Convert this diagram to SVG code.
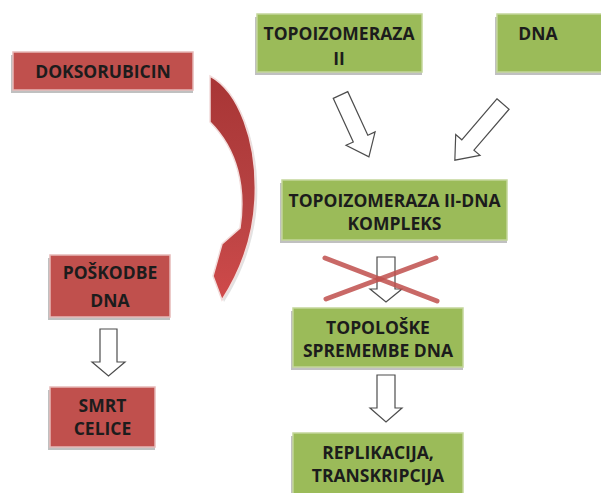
<svg xmlns="http://www.w3.org/2000/svg" width="601" height="493" viewBox="0 0 601 493">
<defs>
<style>
.g{fill:#9bbb59;stroke:#c3d69b;stroke-width:1.5}
.r{fill:#c0504d;stroke:#e6b9b8;stroke-width:1.5}
.sh{fill:#8c8c8c;opacity:0.55}
.t{font-family:"Open Sans","Liberation Sans",sans-serif;font-weight:bold;font-size:17.5px;fill:#1c1c1c;text-anchor:middle}
.ba{fill:#ffffff;stroke:#4d4d4d;stroke-width:1.2;stroke-linejoin:miter}
.x{stroke:#c0504d;stroke-width:5;stroke-linecap:round;opacity:0.85}
</style>
<linearGradient id="cg" x1="0" y1="0" x2="0" y2="1">
<stop offset="0" stop-color="#a83535"/>
<stop offset="0.6" stop-color="#b84343"/>
<stop offset="1" stop-color="#d04a4a"/>
</linearGradient>
</defs>

<g id="doksorubicin">
<rect class="sh" x="11" y="55" width="182" height="38"/>
<rect class="r" x="13" y="52" width="180" height="38"/>
<text class="t" x="103" y="78">DOKSORUBICIN</text>
</g>

<g id="topoizomeraza">
<rect class="sh" x="255" y="17" width="167" height="58"/>
<rect class="g" x="257" y="14" width="165" height="58"/>
<text class="t" x="339" y="40">TOPOIZOMERAZA</text>
<text class="t" x="339" y="65">II</text>
</g>

<g id="dna">
<rect class="sh" x="495" y="17" width="110" height="58"/>
<rect class="g" x="497" y="14" width="110" height="58"/>
<text class="t" x="538" y="40">DNA</text>
</g>

<g id="kompleks">
<rect class="sh" x="280" y="183" width="227" height="60"/>
<rect class="g" x="282" y="180" width="225" height="60"/>
<text class="t" x="394.5" y="207">TOPOIZOMERAZA II-DNA</text>
<text class="t" x="394.5" y="230">KOMPLEKS</text>
</g>

<g id="poskodbe">
<rect class="sh" x="48" y="258" width="122" height="62"/>
<rect class="r" x="50" y="255" width="120" height="62"/>
<text class="t" x="110" y="279">POŠKODBE</text>
<text class="t" x="110" y="307">DNA</text>
</g>

<g id="smrt">
<rect class="sh" x="48" y="390" width="107" height="60"/>
<rect class="r" x="50" y="387" width="105" height="60"/>
<text class="t" x="102.5" y="412">SMRT</text>
<text class="t" x="102.5" y="435">CELICE</text>
</g>

<g id="topoloske">
<rect class="sh" x="291" y="311" width="172" height="59"/>
<rect class="g" x="293" y="308" width="170" height="59"/>
<text class="t" x="378" y="334">TOPOLOŠKE</text>
<text class="t" x="378" y="357">SPREMEMBE DNA</text>
</g>

<g id="replikacija">
<rect class="sh" x="291" y="436" width="172" height="60"/>
<rect class="g" x="293" y="433" width="170" height="62"/>
<text class="t" x="378" y="459">REPLIKACIJA,</text>
<text class="t" x="378" y="482">TRANSKRIPCIJA</text>
</g>

<g id="connectors">
<path d="M212,79 C240,94 260,142 257,202 C255,242 240,277 224,302 L215,278 L224,246 L242,230 C248,190 240,152 212,125 Z" fill="#cfcfcf" opacity="0.6"/>
<path d="M210,76 C238,91 258,140 255,200 C253,240 238,275 222,300 L213,276 L222,244 L240,228 C246,188 238,150 210,122 Z" fill="url(#cg)" stroke="#f2dcdb" stroke-width="1.5"/>
<polygon class="ba" transform="translate(340.5,95) rotate(-24.7)" points="-8,0 8,0 8,48 16,48 0,68 -16,48 -8,48"/>
<polygon class="ba" transform="translate(503,104) rotate(40.6)" points="-8,0 8,0 8,54 16,54 0,74 -16,54 -8,54"/>
<polygon class="ba" points="100,329 117,329 117,362 125,362 108.5,376 92,362 100,362"/>
<polygon class="ba" points="377,257 395,257 395,289 402,289 386,302 370,289 377,289"/>
<polygon class="ba" points="377,375 395,375 395,408 402,408 386,422 370,408 377,408"/>
<line class="x" x1="325" y1="258" x2="437" y2="301"/>
<line class="x" x1="436" y1="258" x2="326" y2="299"/>
</g>
</svg>
